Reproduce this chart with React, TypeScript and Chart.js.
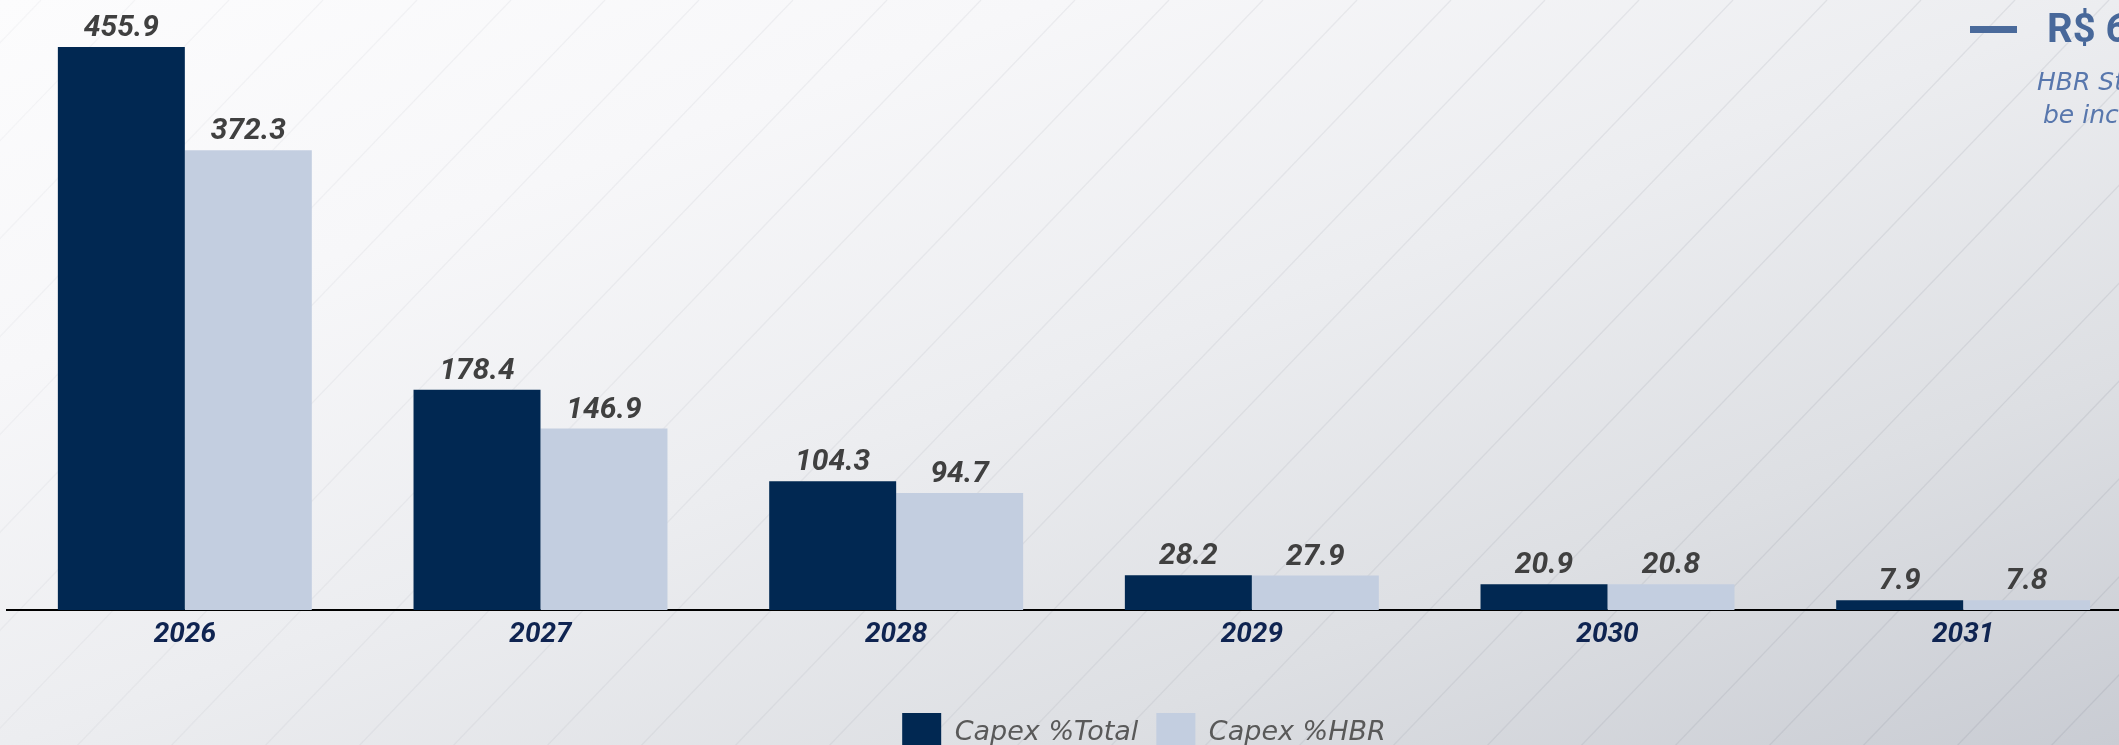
import React, { useEffect, useRef } from "react";
import { Chart, registerables } from "chart.js";

Chart.register(...registerables);

const categories = ["2026", "2027", "2028", "2029", "2030", "2031"];
const capexTotal = [455.9, 178.4, 104.3, 28.2, 20.9, 7.9];
const capexHBR = [372.3, 146.9, 94.7, 27.9, 20.8, 7.8];
const seriesLabels = ["Capex %Total", "Capex %HBR"];
const headline = "R$ 687,4 bi";
const noteLines = ["HBR Stake in total Capex", "be included in the plan"];

const valueLabelPlugin = {
  id: "valueLabels",
  afterDatasetsDraw(chart: any) {
    const ctx = chart.ctx;
    ctx.save();
    ctx.font = "italic bold 30px Roboto";
    ctx.fillStyle = "#404040";
    ctx.textAlign = "center";
    ctx.textBaseline = "alphabetic";
    chart.data.datasets.forEach((ds: any, di: number) => {
      const meta = chart.getDatasetMeta(di);
      meta.data.forEach((el: any, i: number) => {
        const v = ds.data[i] as number;
        ctx.fillText(v.toFixed(1), el.x, el.y - 11);
      });
    });
    ctx.restore();
  },
};

// decorative diagonal hairlines of the slide background
const backgroundLinesPlugin = {
  id: "bgLines",
  beforeDraw(chart: any) {
    const ctx = chart.ctx;
    const H = chart.height;
    const W = chart.width;
    const step = 94;
    const k = 0.96;
    const refY = 450;
    ctx.save();
    const g = ctx.createLinearGradient(0, 0, W, H);
    g.addColorStop(0, "rgba(120,125,140,0.05)");
    g.addColorStop(0.5, "rgba(120,125,140,0.10)");
    g.addColorStop(1, "rgba(120,125,140,0.16)");
    ctx.strokeStyle = g;
    ctx.lineWidth = 1.3;
    for (let x0 = 1207 - step * 30; x0 < W + H + step; x0 += step) {
      ctx.beginPath();
      ctx.moveTo(x0 - (H - refY) * k, H);
      ctx.lineTo(x0 + refY * k, 0);
      ctx.stroke();
    }
    ctx.restore();
  },
};

export default function App() {
  const canvasRef = useRef<HTMLCanvasElement | null>(null);

  useEffect(() => {
    const canvas = canvasRef.current;
    if (!canvas) return;
    const chart = new Chart(canvas, {
      type: "bar",
      data: {
        labels: categories,
        datasets: [
          {
            label: seriesLabels[0],
            data: capexTotal,
            backgroundColor: "#012852",
            borderWidth: 0,
            barPercentage: 1,
            categoryPercentage: 0.714,
          },
          {
            label: seriesLabels[1],
            data: capexHBR,
            backgroundColor: "#c3cee0",
            borderWidth: 0,
            barPercentage: 1,
            categoryPercentage: 0.714,
          },
        ],
      },
      options: {
        animation: false,
        responsive: false,
        layout: { padding: { left: 7, right: 0, top: 0, bottom: 0 } },
        plugins: {
          legend: {
            position: "bottom",
            labels: {
              boxWidth: 39,
              boxHeight: 39,
              padding: 18,
              color: "#595959",
              font: { family: "DejaVu Sans", size: 27, style: "italic" },
            },
          },
          tooltip: { enabled: false },
        },
        scales: {
          x: {
            grid: { display: false, drawTicks: false },
            border: { display: true, color: "#000000", width: 2 },
            ticks: {
              color: "#0f2451",
              font: { family: "Roboto", size: 28, weight: "bold", style: "italic" },
              padding: 8,
            },
            afterFit: (s: any) => {
              s.height = 85;
            },
          },
          y: {
            position: "right",
            min: 0,
            max: 494,
            grid: { display: false, drawTicks: false },
            border: { display: false },
            ticks: { display: false },
            afterFit: (s: any) => {
              s.width = 140;
            },
          },
        },
      },
      plugins: [backgroundLinesPlugin, valueLabelPlugin],
    } as any);
    return () => chart.destroy();
  }, []);

  return (
    <div
      style={{
        position: "fixed",
        left: 0,
        top: 0,
        width: 2119,
        height: 745,
        overflow: "hidden",
        background:
          "linear-gradient(to bottom right, #fcfcfd 0%, #f7f7f9 25%, #ecedf0 50%, #dddfe3 75%, #c9ccd3 100%)",
      }}
    >
      <canvas
        ref={canvasRef}
        width={2281}
        height={762}
        style={{ position: "absolute", left: 0, top: 0, width: 2281, height: 762 }}
      />
      <div
        style={{
          position: "absolute",
          left: 1970,
          top: 26,
          width: 47,
          height: 7,
          background: "#4a6a9b",
        }}
      />
      <div
        style={{
          position: "absolute",
          left: 2047,
          top: 9,
          whiteSpace: "nowrap",
          fontFamily: "Roboto",
          fontWeight: "bold",
          fontSize: 40,
          lineHeight: "40px",
          color: "#48689a",
        }}
      >
        {headline}
      </div>
      <div
        style={{
          position: "absolute",
          left: 2037,
          top: 69,
          whiteSpace: "nowrap",
          fontFamily: "'DejaVu Sans'",
          fontStyle: "italic",
          fontSize: 25,
          lineHeight: "25px",
          color: "#5877ad",
        }}
      >
        {noteLines[0]}
      </div>
      <div
        style={{
          position: "absolute",
          left: 2043,
          top: 102,
          whiteSpace: "nowrap",
          fontFamily: "'DejaVu Sans'",
          fontStyle: "italic",
          fontSize: 25,
          lineHeight: "25px",
          color: "#5877ad",
        }}
      >
        {noteLines[1]}
      </div>
    </div>
  );
}
